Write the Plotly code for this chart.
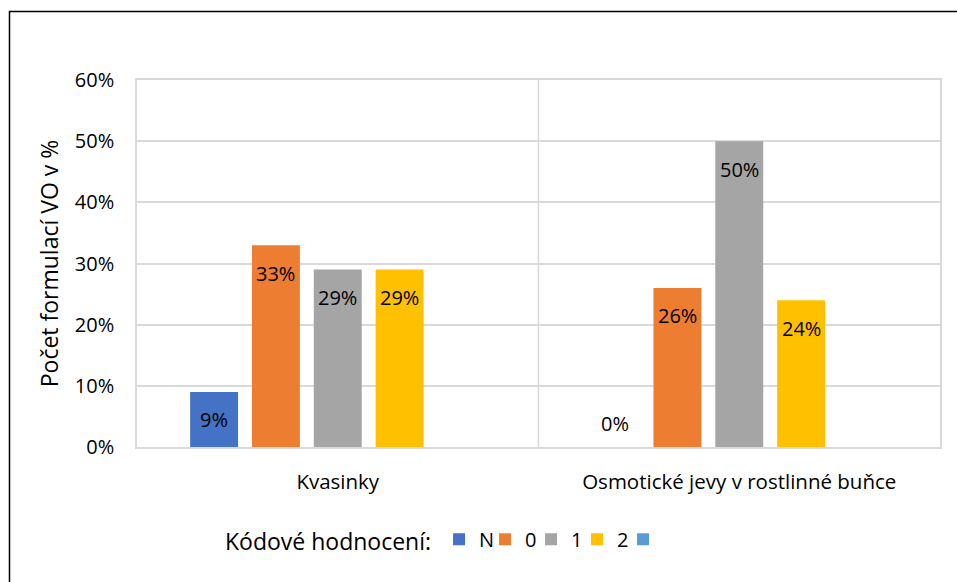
import plotly.graph_objects as go

categories = ["Kvasinky", "Osmotické jevy v rostlinné buňce"]
series_names = ["N", "0", "1", "2", " "]
values_N = [0.09, 0.0]
values_0 = [0.33, 0.26]
values_1 = [0.29, 0.50]
values_2 = [0.29, 0.24]
values_blank = [None, None]
series_values = [values_N, values_0, values_1, values_2, values_blank]
colors = ["#4472C4", "#ED7D31", "#A5A5A5", "#FFC000", "#5B9BD5"]
y_ticks = [0, 0.1, 0.2, 0.3, 0.4, 0.5, 0.6]
y_tick_labels = ["0%", "10%", "20%", "30%", "40%", "50%", "60%"]

FONT = "Open Sans, Liberation Sans, sans-serif"
fig = go.Figure()
for name, vals, col in zip(series_names, series_values, colors):
    fig.add_trace(go.Bar(
        x=categories, y=vals, name=name, marker_color=col,
        marker_line_width=0,
        textposition="none",
        hoverinfo="skip",
    ))

# data labels (Excel "inside end")
annotations = []
n = len(series_names)
for si, vals in enumerate(series_values):
    for ci, v in enumerate(vals):
        if v is None:
            continue
        annotations.append(dict(
            x=ci, y=v, xref="x", yref="y",
            text=f"{round(v*100)}%", showarrow=False,
            xshift=(si - (n - 1) / 2) * 62,
            yshift=-28 if v > 0 else 24,
            font=dict(family=FONT, size=20, color="#000000"),
        ))

W, H = 957, 582
ml, mr, mt, mb = 137, 17, 80, 135
pw, ph = W - ml - mr, H - mt - mb

shapes = [
    # outer chart border
    dict(type="rect", xref="paper", yref="paper",
         x0=(9.5 - ml) / pw, x1=(W + 5 - ml) / pw,
         y0=(mt + ph - (H + 5)) / ph, y1=(mt + ph - 11.5) / ph,
         line=dict(color="#000000", width=1.5), fillcolor="rgba(0,0,0,0)", layer="below"),
    # category separator
    dict(type="line", xref="paper", yref="paper", x0=0.5, x1=0.5, y0=0, y1=1,
         line=dict(color="#D9D9D9", width=1.5), layer="below"),
]

fig.update_layout(
    width=W, height=H,
    margin=dict(l=ml, r=mr, t=mt, b=mb),
    paper_bgcolor="white", plot_bgcolor="white",
    barmode="group", bargap=0.23, bargroupgap=0.225,
    font=dict(family=FONT, size=20, color="#000000"),
    xaxis=dict(showgrid=False, showline=True, linecolor="#D9D9D9", linewidth=1.5,
               mirror=True, ticks="", tickfont=dict(size=20.5), ticklabelstandoff=16),
    yaxis=dict(range=[0, 0.6], tickvals=y_ticks, ticktext=y_tick_labels,
               showgrid=True, gridcolor="#D9D9D9", gridwidth=1.5,
               showline=True, linecolor="#D9D9D9", linewidth=1.5, mirror=True,
               zeroline=False, ticks="", tickfont=dict(size=20), ticklabelstandoff=17,
               title=dict(text="Počet formulací VO v %", font=dict(size=23), standoff=10)),
    legend=dict(orientation="h", x=(226 - ml - 3) / pw, xanchor="left",
                y=-0.253, yanchor="middle",
                title=dict(text="Kódové hodnocení:", font=dict(size=23)),
                font=dict(size=20), entrywidth=1, tracegroupgap=0,
                itemclick=False),
    annotations=annotations,
    shapes=shapes,
    showlegend=True,
)

fig.write_html("out.html", config={"displayModeBar": False},
               post_script="document.body.style.margin='0';")
